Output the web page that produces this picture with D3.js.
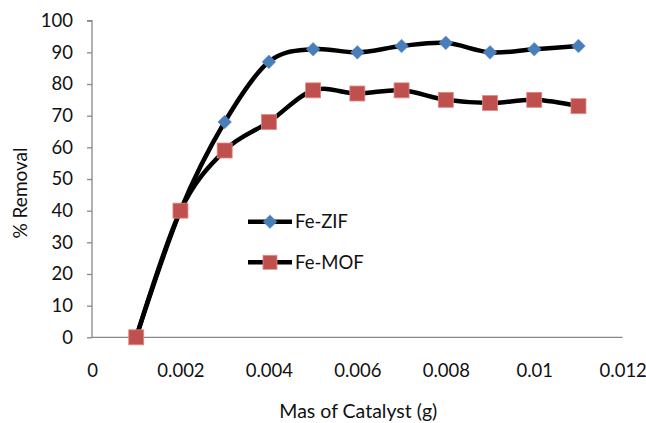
<!DOCTYPE html>
<html>
<head>
<meta charset="utf-8">
<script src="https://d3js.org/d3.v7.min.js"></script>
<style>
  body { margin: 0; background: #fff; }
  text { font-family: Lato, "Open Sans", sans-serif; fill: #111; }
</style>
</head>
<body>
<svg id="chart" width="646" height="423"></svg>
<script>
// catalyst mass (g) and % removal
const massValues = [0.001, 0.002, 0.003, 0.004, 0.005, 0.006, 0.007, 0.008, 0.009, 0.01, 0.011];
const zifValues = [0, 40, 68, 87, 91, 90, 92, 93, 90, 91, 92];
const mofValues = [0, 40, 59, 68, 78, 77, 78, 75, 74, 75, 73];
const xTicks = [0, 0.002, 0.004, 0.006, 0.008, 0.01, 0.012];
const yTicks = [0, 10, 20, 30, 40, 50, 60, 70, 80, 90, 100];

const svg = d3.select("#chart");
const plotLeft = 92, plotRight = 622.7, plotTop = 20.7, plotBottom = 337.3;

let xscale = d3.scaleLinear().domain([0, 0.012]).range([plotLeft, plotRight]);
let yscale = d3.scaleLinear().domain([0, 100]).range([plotBottom, plotTop]);

//axes
let yaxis = d3.axisLeft(yscale).tickValues(yTicks).tickSize(5).tickFormat(d3.format("d"));
let ygrp = svg.append("g").attr("transform", `translate(${plotLeft},0)`).call(yaxis);
ygrp.selectAll("path, line").attr("stroke", "#888").attr("stroke-width", 1.3);
ygrp.select(".domain").attr("d", `M-5,${plotTop}H0V${plotBottom}`);
ygrp.selectAll("text").attr("x", -19).style("font-size", "18.5px").attr("fill", "#111");

let xaxis = d3.axisBottom(xscale).tickValues(xTicks).tickSize(0)
    .tickFormat(d => d === 0 ? "0" : String(+d.toFixed(3)));
let xgrp = svg.append("g").attr("transform", `translate(0,${plotBottom})`).call(xaxis);
xgrp.select(".domain").attr("stroke", "#888").attr("stroke-width", 1.3)
    .attr("d", `M${plotLeft},0H${plotRight}`);
xgrp.selectAll("text").attr("y", 27).style("font-size", "18.5px").attr("fill", "#111");

//axis titles
svg.append("text")
    .attr("x", (plotLeft + plotRight) / 2 + 1)
    .attr("y", 418)
    .attr("text-anchor", "middle")
    .style("font-size", "19.5px")
    .text("Mas of Catalyst (g)");
svg.append("text")
    .attr("transform", `translate(27,${(plotTop + plotBottom) / 2 + 14}) rotate(-90)`)
    .attr("text-anchor", "middle")
    .style("font-size", "19px")
    .text("% Removal");

//series
let line = d3.line().curve(d3.curveCardinal.tension(0))
    .x(d => xscale(d[0])).y(d => yscale(d[1]));

let zif = massValues.map((m, i) => [m, zifValues[i]]);
let mof = massValues.map((m, i) => [m, mofValues[i]]);

[zif, mof].forEach(s => {
    svg.append("path").datum(s)
        .attr("d", line)
        .attr("fill", "none")
        .attr("stroke", "#000")
        .attr("stroke-width", 4.5);
});

function drawDiamond(g, x, y) {
    g.append("path")
        .attr("d", "M0,-6.8L6.8,0L0,6.8L-6.8,0Z")
        .attr("transform", `translate(${x},${y})`)
        .attr("fill", "#4a7ebb")
        .attr("stroke", "#5b8dc8").attr("stroke-width", 0.6);
}
function drawSquare(g, x, y, s) {
    g.append("rect")
        .attr("x", x - s / 2).attr("y", y - s / 2)
        .attr("width", s).attr("height", s)
        .attr("fill", "#c0504d")
        .attr("stroke", "#e08a88").attr("stroke-width", 0.8);
}

let marks = svg.append("g");
zif.forEach(d => drawDiamond(marks, xscale(d[0]), yscale(d[1])));
mof.forEach(d => drawSquare(marks, xscale(d[0]), yscale(d[1]), 15));

//legend
let legend = svg.append("g");
const legendItems = [
    { name: "Fe-ZIF", y: 221.7, kind: "diamond" },
    { name: "Fe-MOF", y: 262.3, kind: "square" }
];
legendItems.forEach(it => {
    legend.append("line")
        .attr("x1", 248).attr("x2", 292)
        .attr("y1", it.y).attr("y2", it.y)
        .attr("stroke", "#000").attr("stroke-width", 4.5);
    if (it.kind === "diamond") drawDiamond(legend, 270, it.y);
    else drawSquare(legend, 270, it.y, 14);
    legend.append("text")
        .attr("x", 295).attr("y", it.y + 6.5)
        .style("font-size", "18.5px")
        .text(it.name);
});
</script>
</body>
</html>
